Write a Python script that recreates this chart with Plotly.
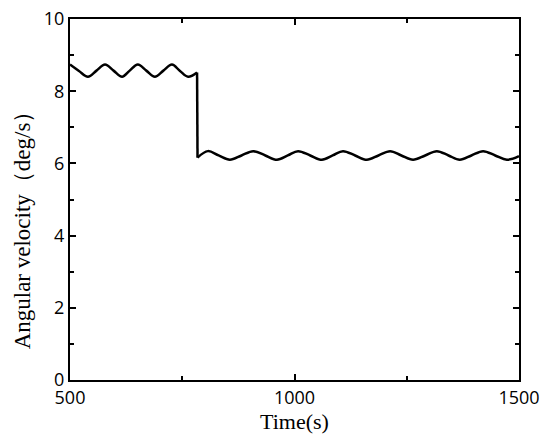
import plotly.graph_objects as go

# Segment before the step (peaks/troughs)
t1 = [500, 520, 540, 559, 578, 597, 616, 633, 651, 670, 689, 708, 727, 745, 763, 783]
v1 = [8.74, 8.56, 8.40, 8.57, 8.74, 8.57, 8.40, 8.57, 8.74, 8.57, 8.40, 8.57, 8.74, 8.56, 8.40, 8.52]
# Segment after the step
t2 = [784, 807, 831, 856, 882, 908, 935, 961, 985, 1008, 1035, 1061, 1085, 1108, 1135,
      1161, 1187, 1213, 1238, 1264, 1291, 1317, 1343, 1368, 1394, 1420, 1447, 1473, 1500]
v2 = [6.16, 6.34, 6.22, 6.10, 6.22, 6.34, 6.22, 6.10, 6.22, 6.34, 6.22, 6.10, 6.22, 6.34, 6.22,
      6.10, 6.22, 6.34, 6.22, 6.10, 6.22, 6.34, 6.22, 6.10, 6.22, 6.34, 6.22, 6.10, 6.20]

x_title = "Time(s)"
y_title = "Angular velocity（deg/s）"

line = dict(color="black", width=2.5)
fig = go.Figure()
fig.add_trace(go.Scatter(x=t1, y=v1, mode="lines", line=dict(shape="spline", smoothing=1.0, **line)))
fig.add_trace(go.Scatter(x=[t1[-1], t2[0]], y=[v1[-1], v2[0]], mode="lines", line=line))
fig.add_trace(go.Scatter(x=t2, y=v2, mode="lines", line=dict(shape="spline", smoothing=1.0, **line)))

tickfont = dict(family="Open Sans", size=18, color="black")
titlefont = dict(family="Liberation Serif", size=22, color="black")
axis_common = dict(showline=True, linecolor="black", linewidth=2, mirror="ticks",
                   ticks="inside", ticklen=6, tickwidth=2, tickcolor="black",
                   showgrid=False, zeroline=False, tickfont=tickfont, automargin=False,
                   ticklabeloverflow="allow",
                   minor=dict(ticks="inside", ticklen=4, tickwidth=2, tickcolor="black"))
fig.update_xaxes(range=[500, 1500], tickvals=[500, 1000, 1500], ticktext=["500", "1000", "1500"],
                 minor_dtick=250, title=dict(text=x_title, font=titlefont, standoff=4),
                 **axis_common)
fig.update_yaxes(range=[0, 10], dtick=2, minor_dtick=1, **axis_common)
fig.add_annotation(text=y_title, xref="paper", yref="paper", x=-0.107, y=0.431,
                   xanchor="center", yanchor="middle", textangle=-90, showarrow=False,
                   font=dict(family="Liberation Serif", size=23, color="black"))
fig.update_layout(width=542, height=431, showlegend=False,
                  margin=dict(l=62, r=31, t=11, b=59),
                  plot_bgcolor="white", paper_bgcolor="white")
fig.write_html("out.html")
